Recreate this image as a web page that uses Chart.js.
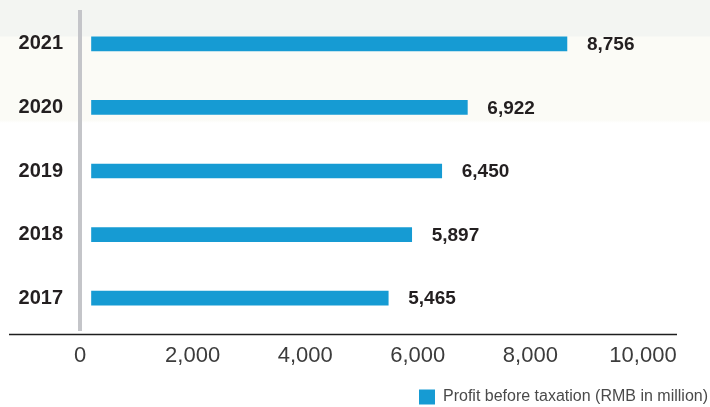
<!DOCTYPE html>
<html>
<head>
<meta charset="utf-8">
<script src="https://cdn.jsdelivr.net/npm/chart.js@4/dist/chart.umd.min.js"></script>
<style>
  html, body { margin: 0; padding: 0; }
  body {
    width: 710px; height: 407px; overflow: hidden;
    background: linear-gradient(to bottom, #f3f5f2 0px, #f3f5f2 36px, #fbfbf6 37px, #fbfbf6 120px, #ffffff 123px, #ffffff 407px);
  }
  #c { display: block; }
</style>
</head>
<body>
<canvas id="c" width="710" height="407"></canvas>
<script>
// ---- data ----
const years = ['2017', '2018', '2019', '2020', '2021'];
const profitBeforeTax = [5465, 5897, 6450, 6922, 8756];
const tickValues = [0, 2000, 4000, 6000, 8000, 10000];
const seriesLabel = 'Profit before taxation (RMB in million)';

const barColor = '#169bd3';
const darkText = '#231f20';

const valueLabels = {
  id: 'valueLabels',
  afterDatasetsDraw(chart) {
    const ctx = chart.ctx;
    const meta = chart.getDatasetMeta(0);
    ctx.save();
    ctx.font = 'bold 19px "Liberation Sans", Arial, sans-serif';
    ctx.fillStyle = darkText;
    ctx.textAlign = 'left';
    ctx.textBaseline = 'middle';
    meta.data.forEach((bar, i) => {
      const v = chart.data.datasets[0].data[i];
      ctx.fillText(v.toLocaleString('en-US'), bar.x + 20, bar.y + 1);
    });
    ctx.restore();
  }
};

const baseLine = {
  id: 'baseLine',
  afterDraw(chart) {
    const ctx = chart.ctx;
    const y = chart.chartArea.bottom + 4.5;
    ctx.save();
    ctx.strokeStyle = '#1e1e1e';
    ctx.lineWidth = 1.4;
    ctx.beginPath();
    ctx.moveTo(9, y);
    ctx.lineTo(677, y);
    ctx.stroke();
    ctx.restore();
  }
};

new Chart(document.getElementById('c'), {
  type: 'bar',
  data: {
    labels: years,
    datasets: [{
      label: seriesLabel,
      data: profitBeforeTax,
      backgroundColor: barColor,
      borderWidth: 0,
      barThickness: 14,
      xAxisID: 'xb'
    }]
  },
  options: {
    indexAxis: 'y',
    responsive: false,
    animation: false,
    layout: { padding: { top: 12, right: 2, bottom: -8, left: 0 } },
    scales: {
      x: {
        type: 'linear',
        position: 'bottom',
        min: 0,
        max: 11155,
        afterBuildTicks(scale) {
          scale.ticks = tickValues.map(v => ({ value: v }));
        },
        afterFit(scale) {
          scale.height = 59;
          scale.paddingLeft = 0; scale.paddingRight = 0;
        },
        grid: { display: false },
        border: { display: false },
        ticks: {
          padding: 5,
          color: '#3c3c3c',
          font: { family: '"Liberation Sans", Arial, sans-serif', size: 22 },
          callback: v => v.toLocaleString('en-US')
        }
      },
      xb: {
        type: 'linear',
        display: false,
        position: 'bottom',
        min: -212,
        max: 11354
      },
      y: {
        reverse: true,
        afterFit(scale) {
          scale.width = 80;
          scale.paddingTop = 0; scale.paddingBottom = 0;
        },
        grid: { display: false },
        border: { display: true, color: '#c4c5c9', width: 4 },
        ticks: {
          padding: 9,
          color: darkText,
          font: { family: '"Liberation Sans", Arial, sans-serif', size: 20, weight: 'bold' }
        }
      }
    },
    plugins: {
      legend: {
        position: 'bottom',
        align: 'end',
        labels: {
          boxWidth: 16,
          boxHeight: 15,
          padding: 0,
          color: '#4a4a4a',
          font: { family: '"Liberation Sans", Arial, sans-serif', size: 16 }
        }
      },
      tooltip: { enabled: false }
    }
  },
  plugins: [valueLabels, baseLine]
});
</script>
</body>
</html>
